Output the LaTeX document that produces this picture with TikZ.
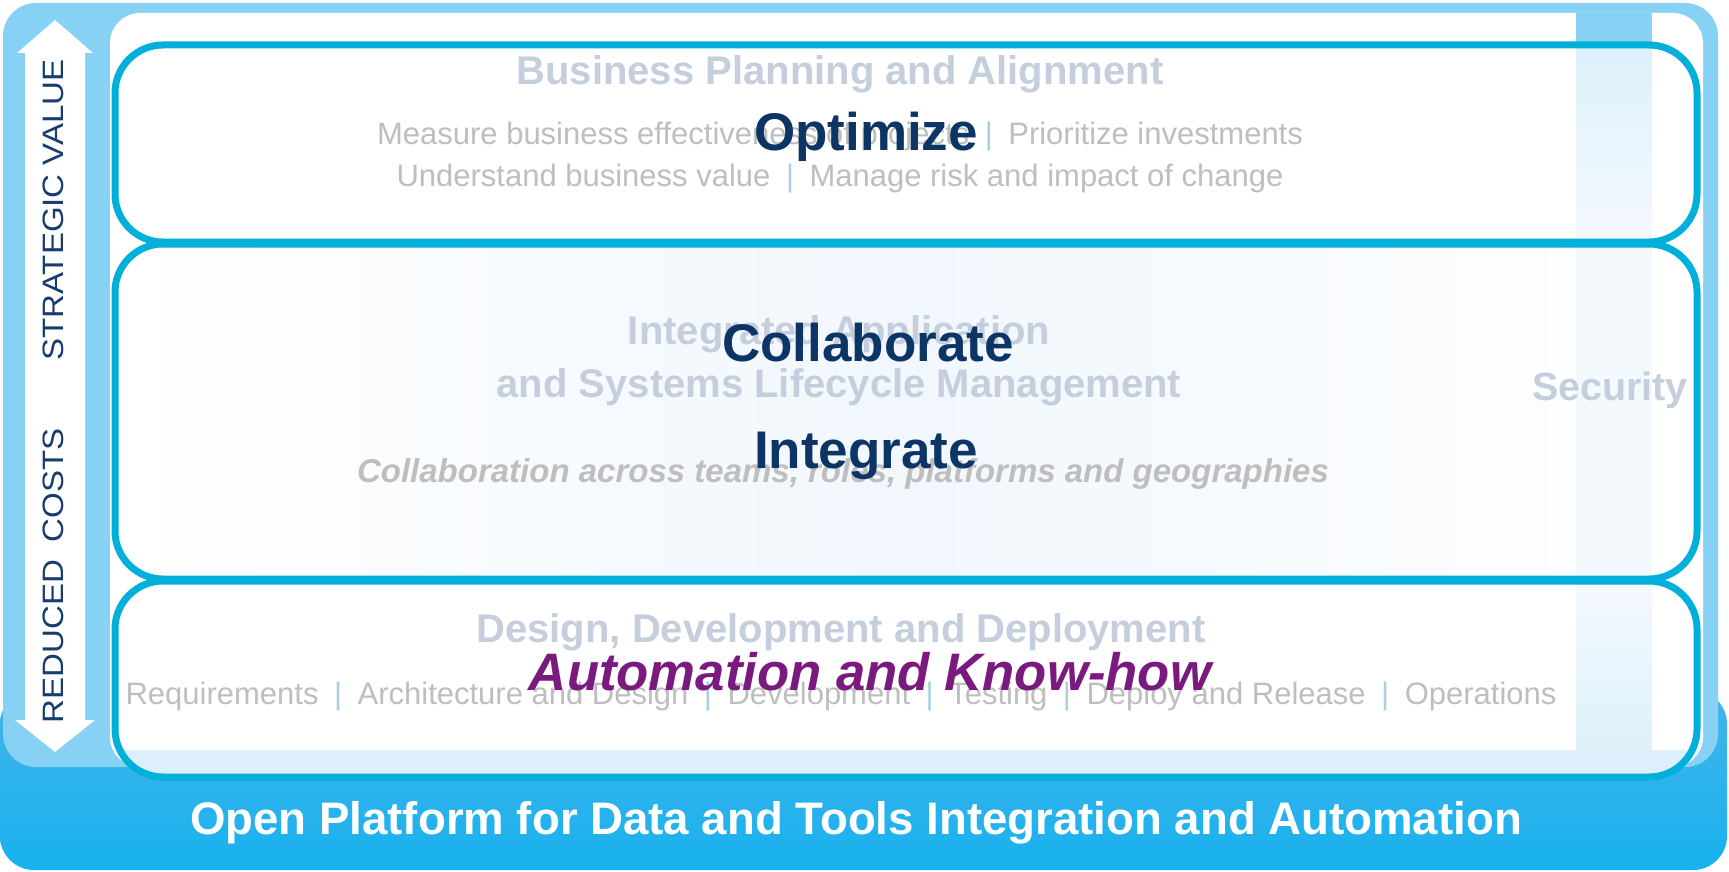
\documentclass[tikz,border=0pt]{standalone}
\usepackage{fontspec}
\setmainfont{Liberation Sans}
\newfontfamily\widefont[FakeStretch=1.12]{Liberation Sans}
\definecolor{frameblue}{HTML}{87D1F5}
\definecolor{cyanline}{HTML}{00B0DA}
\definecolor{titlegray}{HTML}{C4CEDC}
\definecolor{textgray}{HTML}{BEBEBE}
\definecolor{sepblue}{HTML}{A8CFE6}
\definecolor{navy}{HTML}{0C3566}
\definecolor{sidenavy}{HTML}{173D70}
\definecolor{purpletxt}{HTML}{7A1A7E}
\definecolor{bartop}{HTML}{45B4EA}
\definecolor{barbot}{HTML}{18B1EE}
\definecolor{boxmid}{HTML}{F1F7FD}
\definecolor{bandblue}{HTML}{DCEFFA}
\definecolor{coltop}{HTML}{DDF1FB}
\definecolor{colmid}{HTML}{F4F9FE}
\newcommand{\sepbar}{\hspace{0.5em}\textcolor{sepblue}{|}\hspace{0.5em}}
\begin{document}
\begin{tikzpicture}[x=1pt,y=-1pt,
  layerbox/.style={line width=7pt, draw=cyanline, rounded corners=48pt},
  titletext/.style={font=\bfseries\fontsize{40}{44}\selectfont, text=titlegray, inner sep=0pt, anchor=base},
  subtext/.style={font=\fontsize{31}{34}\selectfont, text=textgray, inner sep=0pt, anchor=base},
  bigtext/.style={font=\bfseries\fontsize{53}{58}\selectfont, text=navy, inner sep=0pt, anchor=base},
  sidetext/.style={font=\widefont\fontsize{29.5}{34}\selectfont, text=sidenavy, inner sep=0pt, anchor=base, rotate=90}]
\useasboundingbox (0,0) rectangle (1729,872);
\fill[white] (0,0) rectangle (1729,872);
% bottom bar
\shade[top color=bartop, bottom color=barbot, rounded corners=34pt] (0,690) rectangle (1727,870);
% light blue frame
\fill[frameblue, rounded corners=33pt] (3,3) rectangle (1718,767);
% inner white area
\fill[white, rounded corners=30pt] (110,13) rectangle (1703,767);
% security column top
\fill[frameblue] (1576,13) rectangle (1652,46);
% box fills
\fill[white, rounded corners=48pt] (115,45) rectangle (1697,242);
\shade[left color=white, right color=white, middle color=boxmid, rounded corners=48pt] (115,244) rectangle (1697,579);
\fill[white, rounded corners=48pt] (115,581) rectangle (1697,777);
\begin{scope}
  \clip[rounded corners=48pt] (115,581) rectangle (1697,777);
  \fill[bandblue] (115,750) rectangle (1697,777);
\end{scope}
% security column inside boxes
\shade[top color=coltop, bottom color=colmid] (1576,46) rectangle (1652,242);
\fill[colmid] (1576,244) rectangle (1652,579);
\shade[top color=colmid, bottom color=coltop] (1576,581) rectangle (1652,750);
% box strokes
\draw[layerbox] (115,45) rectangle (1697,242);
\draw[layerbox] (115,244) rectangle (1697,579);
\draw[layerbox] (115,581) rectangle (1697,777);
% double arrow
\fill[white] (55,20) -- (93,53) -- (85,53) -- (85,720) -- (95,720) -- (55,752)
  -- (15,720) -- (25,720) -- (25,53) -- (17,53) -- cycle;
\node[sidetext] (sv) at (63,210) {STRATEGIC VALUE};
\node[sidetext] (rc) at (63,576) {REDUCED\hspace{0.6em}COSTS};
% top layer texts
\node[titletext] (bpa) at (840,85) {Business Planning and Alignment};
\node[subtext] (l1) at (840,145) {Measure business effectiveness of projects\sepbar Prioritize investments};
\node[subtext] (l2) at (840,186) {Understand business value\sepbar Manage risk and impact of change};
\node[bigtext] (opt) at (866,150) {Optimize};
% middle layer texts
\node[titletext] (ia1) at (839,344) {Integrated Application};
\node[titletext] (ia2) at (839,397) {and Systems Lifecycle Management};
\node[font=\bfseries\itshape\fontsize{33}{36}\selectfont, text=textgray, inner sep=0pt, anchor=base] (col) at (843,482) {Collaboration across teams, roles, platforms and geographies};
\node[bigtext] (colb) at (868,361) {Collaborate};
\node[bigtext] (integ) at (866,468) {Integrate};
\node[font=\bfseries\fontsize{39.5}{44}\selectfont, text=titlegray, inner sep=0pt, anchor=base] (sec) at (1610,400) {Security};
% bottom layer texts
\node[titletext] (ddd) at (841,642) {Design, Development and Deployment};
\node[subtext] (req) at (841,704) {Requirements\sepbar Architecture and Design\sepbar Development\sepbar Testing\sepbar Deploy and Release\sepbar Operations};
\node[font=\bfseries\itshape\fontsize{52.7}{58}\selectfont, text=purpletxt, inner sep=0pt, anchor=base] (auto) at (870,690) {Automation and Know-how};
% platform bar text
\node[font=\bfseries\fontsize{45.6}{50}\selectfont, text=white, inner sep=0pt, anchor=base] (plat) at (856,834) {Open Platform for Data and Tools Integration and Automation};
\end{tikzpicture}
\end{document}
